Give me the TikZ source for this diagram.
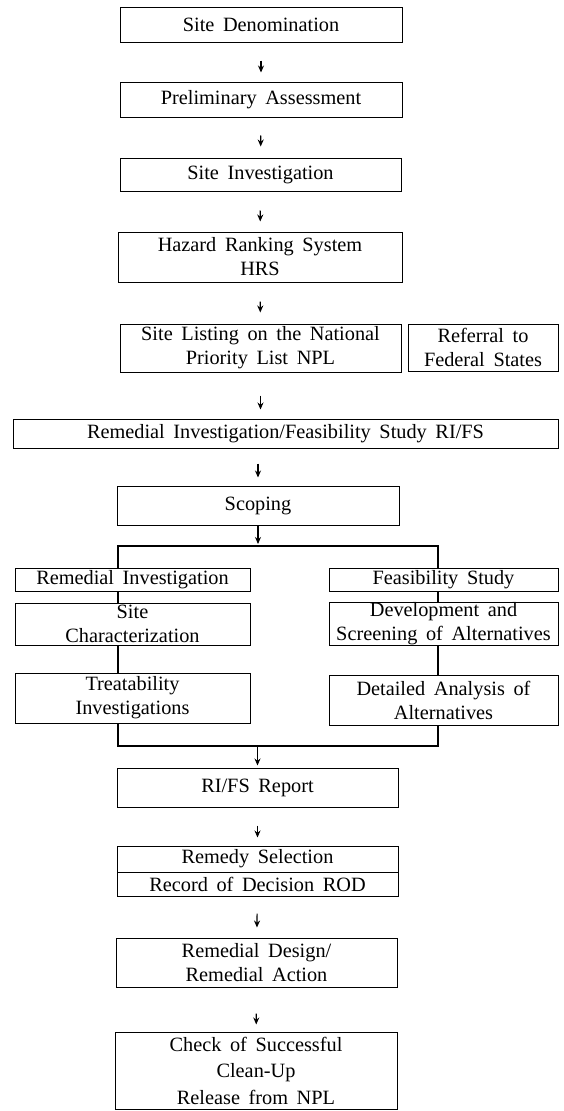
\documentclass[tikz,border=0pt]{standalone}
\usepackage{fontspec}
\setmainfont{Liberation Serif}[WordSpace={1.7}]
\usetikzlibrary{arrows.meta}
\begin{document}
\begin{tikzpicture}[x=1pt,y=-1pt]
\tikzset{
  box/.style={draw, line width=1pt, inner sep=0pt, align=center,
    font=\fontsize{20.3}{24}\selectfont},
  flow/.style={line width=1.2pt, -{Stealth[length=7pt,width=6pt]}},
  link/.style={line width=1.6pt},
}
\useasboundingbox (0,0) rectangle (564,1111);

% main column
\node[box, minimum width=282pt, minimum height=35pt] (den) at (261,24.5) {Site Denomination};
\node[box, minimum width=282pt, minimum height=35pt] (pre) at (261,99.5) {Preliminary Assessment};
\node[box, minimum width=281pt, minimum height=33pt] (inv) at (260.5,174.5) {Site Investigation};
\node[box, minimum width=284pt, minimum height=50pt] (hrs) at (260,257) {Hazard Ranking System\\HRS};
\node[box, minimum width=281pt, minimum height=48pt] (npl) at (260.5,348) {Site Listing on the National\\Priority List NPL};
\node[box, minimum width=150pt, minimum height=47pt] (ref) at (483,347.5) {Referral to\\Federal States};
\node[box, minimum width=545pt, minimum height=29pt] (rifs) at (285.5,433.5) {Remedial Investigation/Feasibility Study RI/FS};
\node[box, minimum width=282pt, minimum height=39pt] (scop) at (258,505.5) {Scoping};

% two branches
\node[box, minimum width=235pt, minimum height=23pt] (ri) at (132.5,579.5) {Remedial Investigation};
\node[box, minimum width=235pt, minimum height=42pt] (sc) at (132.5,624) {Site\\Characterization};
\node[box, minimum width=235pt, minimum height=50pt] (ta) at (132.5,698) {Treatability\\Investigations};
\node[box, minimum width=229pt, minimum height=23pt] (fs) at (443.5,579.5) {Feasibility Study};
\node[box, minimum width=229pt, minimum height=42pt] (dev) at (443.5,624) {Development and\\Screening of Alternatives};
\node[box, minimum width=229pt, minimum height=50pt] (det) at (443.5,700) {Detailed Analysis of\\Alternatives};

% lower column
\node[box, minimum width=281pt, minimum height=39pt] (rep) at (257.5,787.5) {RI/FS Report};
\node[box, minimum width=281pt, minimum height=26pt] (rsel) at (257.5,859) {Remedy Selection};
\node[box, minimum width=281pt, minimum height=24pt] (rod) at (257.5,884) {Record of Decision ROD};
\node[box, minimum width=281pt, minimum height=49pt] (rdra) at (256.5,962.5) {Remedial Design/\\Remedial Action};
\node[box, minimum width=282pt, minimum height=77pt, font=\fontsize{20.3}{26.5}\selectfont] (chk) at (256,1070.5) {Check of Successful\\Clean-Up\\Release from NPL};

% split and merge points
\coordinate (split) at (260,546);
\coordinate (merge) at (260,746);

% arrows of the main column
\draw[flow, shorten <=18pt, shorten >=9pt] (den) -- (pre);
\draw[flow, shorten <=18pt, shorten >=11pt] (pre) -- (inv);
\draw[flow, shorten <=19pt, shorten >=10pt] (inv) -- (hrs);
\draw[flow, shorten <=19pt, shorten >=11pt] (hrs) -- (npl);
\draw[flow, shorten <=23pt, shorten >=9pt] (npl.south) -- (npl.south |- rifs.north);
\draw[flow, shorten <=15pt, shorten >=8pt] (rifs.south -| scop.south) -- (scop.north);
\draw[flow, shorten >=2pt] (scop.south) -- (scop.south |- split);

% branching bracket
\draw[link] ([xshift=-14.5pt]ri.north) |- ([xshift=-5.5pt]fs.north |- split) -- ([xshift=-5.5pt]fs.north);
\draw[link] ([xshift=-14.5pt]ri.south) -- ([xshift=-14.5pt]sc.north);
\draw[link] ([xshift=-14.5pt]sc.south) -- ([xshift=-14.5pt]ta.north);
\draw[link] ([xshift=-5.5pt]fs.south) -- ([xshift=-5.5pt]dev.north);
\draw[link] ([xshift=-5.5pt]dev.south) -- ([xshift=-5.5pt]det.north);

% merging bracket
\draw[link] ([xshift=-14.5pt]ta.south) |- ([xshift=-5.5pt]det.south |- merge) -- ([xshift=-5.5pt]det.south);
\draw[flow, shorten >=2pt] (rep.north |- merge) -- (rep.north);

% arrows of the lower column
\draw[flow, shorten <=18pt, shorten >=8pt] (rep) -- (rsel);
\draw[flow, shorten <=17pt, shorten >=10pt] (rod) -- (rdra);
\draw[flow, shorten <=26pt, shorten >=7pt] (rdra) -- (chk);
\end{tikzpicture}
\end{document}
